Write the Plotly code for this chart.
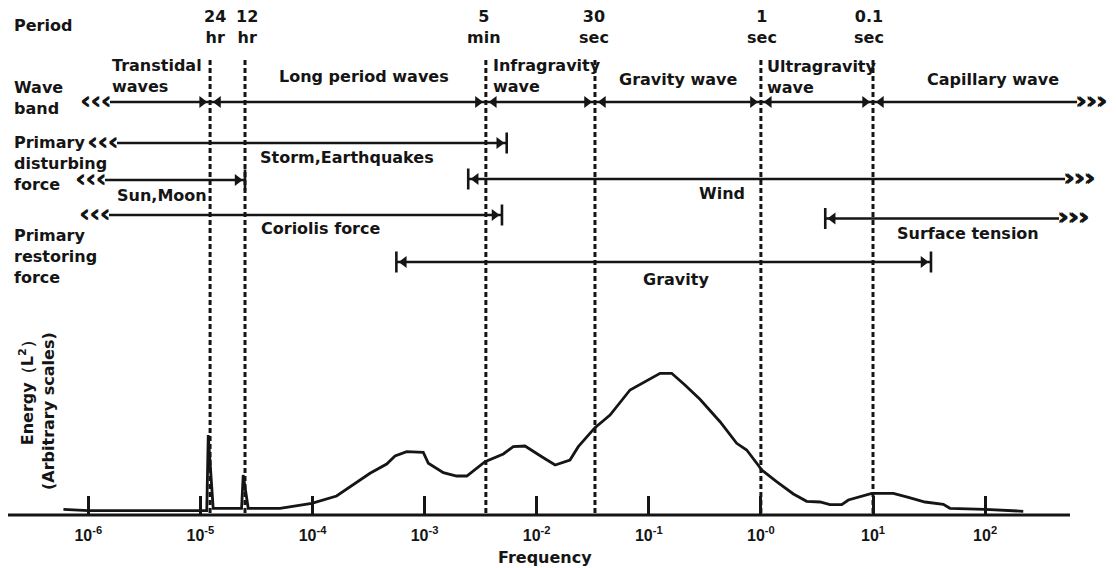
import numpy as np
import plotly.graph_objects as go

# ---------------- data ----------------
freq = [6.0e-7, 1.0e-6, 1.14e-5, 1.175e-5, 1.30e-5, 2.33e-5, 2.41e-5, 2.67e-5, 5.13e-5, 9.84e-5,
        1.64e-4, 3.26e-4, 4.59e-4, 5.45e-4, 6.92e-4, 9.73e-4, 1.08e-3, 1.47e-3, 1.93e-3, 2.38e-3,
        3.46e-3, 5.04e-3, 6.18e-3, 7.86e-3, 1.11e-2, 1.46e-2, 1.98e-2, 2.35e-2, 3.31e-2, 4.51e-2,
        6.80e-2, 9.57e-2, 0.126, 0.160, 0.210, 0.286, 0.432, 0.608, 0.747, 1.02,
        1.38, 1.95, 2.56, 3.37, 4.13, 5.26, 6.03, 9.75, 15.2, 20.7,
        29.1, 42.4, 48.6, 99.8, 219.0]
energy = [5.7, 4.3, 4.3, 80, 6.7, 6.7, 40, 6.7, 6.7, 11.7,
          19, 41.7, 51, 59, 63.3, 62.7, 51.7, 42.3, 39, 39,
          53.3, 61, 68.3, 69, 58.3, 50, 55, 68.3, 87.3, 100,
          125, 134, 141.7, 141.7, 130, 115.7, 93.3, 71.7, 65, 45,
          33.3, 21, 13.7, 13, 10.3, 10.3, 15, 21.7, 21.7, 17.7,
          13, 10.7, 6.7, 5.7, 3.7]

tick_vals = [1e-6, 1e-5, 1e-4, 1e-3, 1e-2, 1e-1, 1e0, 1e1, 1e2]
tick_text = ["10<sup>-6</sup>", "10<sup>-5</sup>", "10<sup>-4</sup>", "10<sup>-3</sup>",
             "10<sup>-2</sup>", "10<sup>-1</sup>", "10<sup>-0</sup>", "10<sup>1</sup>", "10<sup>2</sup>"]

period_freq = [1.22e-5, 2.50e-5, 3.52e-3, 3.31e-2, 1.0, 10.0]
period_text = ["24<br>hr", "12<br>hr", "5<br>min", "30<br>sec", "1<br>sec", "0.1<br>sec"]

band_names = ["Transtidal<br>waves", "Long period waves", "Infragravity<br>wave",
              "Gravity wave", "Ultragravity<br>wave", "Capillary wave"]
band_lo = [None, 1.22e-5, 3.52e-3, 3.31e-2, 1.0, 10.0]
band_hi = [1.22e-5, 3.52e-3, 3.31e-2, 1.0, 10.0, None]

force_names = ["Storm,Earthquakes", "Sun,Moon", "Wind", "Coriolis force", "Surface tension", "Gravity"]
force_lo = [None, None, 2.45e-3, None, 3.75, 5.6e-4]
force_hi = [5.4e-3, 2.50e-5, None, 4.9e-3, None, 32.9]

# ---------------- layout helpers ----------------
W, H = 1117, 568
L, R, T, B = 8, 0, 0, 53
PW, PH = W - L - R, H - T - B
PX_PER_DEC = 112.1
X_1EM6_PX = 88.3                      # pixel column of 1e-6
XR = [-6 + (L - X_1EM6_PX) / PX_PER_DEC, -6 + (W - R - X_1EM6_PX) / PX_PER_DEC]
PXD = (XR[1] - XR[0]) / PW           # decades per pixel
AXIS_END_PX = 1070
INK = "#151515"
FONT = "DejaVu Sans"


def lx(px):
    return XR[0] + (px - L) * PXD


def px_paper(px):
    return (px - L) / PW


def py_paper(py):
    return 1 - (py - T) / PH


fig = go.Figure()
annotations = []


def label(text, px, py, xanchor="left", size=16, align="left", angle=0):
    annotations.append(dict(text=text, x=px_paper(px), y=py_paper(py), xref="paper", yref="paper",
                            xanchor=xanchor, yanchor="middle", showarrow=False, align=align,
                            textangle=angle,
                            font=dict(family=FONT, size=size, color=INK, weight="bold")))


# vertical dashed period lines
for f in period_freq:
    fig.add_trace(go.Scatter(x=[f, f], y=[60, 515], yaxis="y2", mode="lines",
                             line=dict(color=INK, width=3, dash="5px,3px"),
                             hoverinfo="skip", showlegend=False))

# energy spectrum
fig.add_trace(go.Scatter(x=freq, y=energy, mode="lines", line=dict(color=INK, width=2.8),
                         showlegend=False, hoverinfo="skip"))

# arrows ---------------------------------------------------------
HS = 10.5                       # head marker size
TIP = 1.155 * HS / 2            # tip offset from marker center (px)
heads_r, heads_l, bars = [], [], []
CHEV = dict(family=FONT, size=25, color=INK, weight="bold")


def chevrons(text, x, row, xanchor):
    # drawn twice with a 1.5 px shift to give the heavy look of the original
    for dx in (0, 1.5):
        annotations.append(dict(text=text, x=x, y=row, xref="x", yref="y2", xanchor=xanchor,
                                yanchor="middle", showarrow=False, yshift=2,
                                xshift=dx if xanchor == "left" else -dx, font=CHEV))


def arrow(lo, hi, row, lo_open_px=None, hi_open_px=None, lo_cap="head", hi_cap="head", gap=2.0):
    x0 = lx(lo_open_px) if lo is None else np.log10(lo)
    x1 = lx(hi_open_px) if hi is None else np.log10(hi)
    fig.add_trace(go.Scatter(x=[10 ** x0, 10 ** x1], y=[row, row], yaxis="y2", mode="lines",
                             line=dict(color=INK, width=2.4), hoverinfo="skip", showlegend=False))
    if lo is None:
        chevrons("‹‹‹", x0 + 4 * PXD, row, "right")
    else:
        g = 1.5 if lo_cap == "bar" else gap
        heads_l.append((10 ** (x0 + (g + TIP) * PXD), row))
        if lo_cap == "bar":
            bars.append((10 ** x0, row))
    if hi is None:
        chevrons("›››", x1 - 4 * PXD, row, "left")
    else:
        g = 1.5 if hi_cap == "bar" else gap
        heads_r.append((10 ** (x1 - (g + TIP) * PXD), row))
        if hi_cap == "bar":
            bars.append((10 ** x1, row))


# wave band row
BAND_ROW = 102
for i in range(len(band_names)):
    arrow(band_lo[i], band_hi[i], BAND_ROW, lo_open_px=110, hi_open_px=1077)

# force rows: row, open-left px, open-right px
force_rows = [143, 180, 179, 215, 218.5, 262]
force_open = [(117, None), (105, None), (None, 1065), (109, None), (None, 1059), (None, None)]
for i in range(len(force_names)):
    arrow(force_lo[i], force_hi[i], force_rows[i], lo_open_px=force_open[i][0],
          hi_open_px=force_open[i][1], lo_cap="bar", hi_cap="bar")

fig.add_trace(go.Scatter(x=[p[0] for p in heads_r], y=[p[1] for p in heads_r], yaxis="y2", mode="markers",
                         marker=dict(symbol="triangle-right", size=HS, color=INK, line=dict(width=0)),
                         hoverinfo="skip", showlegend=False))
fig.add_trace(go.Scatter(x=[p[0] for p in heads_l], y=[p[1] for p in heads_l], yaxis="y2", mode="markers",
                         marker=dict(symbol="triangle-left", size=HS, color=INK, line=dict(width=0)),
                         hoverinfo="skip", showlegend=False))
fig.add_trace(go.Scatter(x=[p[0] for p in bars], y=[p[1] for p in bars], yaxis="y2", mode="markers",
                         marker=dict(symbol="line-ns", size=15, color=INK, line=dict(width=2.6, color=INK)),
                         hoverinfo="skip", showlegend=False))

# ---------------- text ----------------
label("Period", 12, 26)
label("Wave<br>band", 12, 97.5)
label("Primary<br>disturbing<br>force", 12, 163)
label("Primary<br>restoring<br>force", 12, 256)

period_px = [215, 247, 484, 594, 762, 869]
for t, px in zip(period_text, period_px):
    label(t, px, 27, xanchor="center", align="center")

band_pos = [(110, 76, "left"), (364, 76, "center"), (491, 76, "left"),
            (678, 80, "center"), (765, 76.5, "left"), (993, 80, "center")]
for t, (px, py, xa) in zip(band_names, band_pos):
    label(t, px, py, xanchor=xa)

force_pos = [(258, 157, "left"), (115, 195, "left"), (722, 194, "center"),
             (259, 228.5, "left"), (895, 234, "left"), (641, 279, "left")]
for t, (px, py, xa) in zip(force_names, force_pos):
    label(t, px, py, xanchor=xa)

label("Energy（L<sup>2</sup>）<br>(Arbitrary scales)", 37, 411, xanchor="center", align="right", angle=-90)
label("Frequency", 545, 557, xanchor="center", align="center")

# baseline of the frequency axis (ends short of the right edge, as in the reference)
shapes = [dict(type="line", xref="paper", yref="paper", x0=0, x1=px_paper(AXIS_END_PX), y0=0, y1=0,
               line=dict(color=INK, width=3))]

fig.update_layout(
    width=W, height=H,
    margin=dict(l=L, r=R, t=T, b=B, autoexpand=False),
    paper_bgcolor="white", plot_bgcolor="white",
    showlegend=False,
    annotations=annotations,
    shapes=shapes,
    xaxis=dict(type="log", range=XR, showgrid=False, zeroline=False, showline=False,
               ticks="inside", ticklen=19, tickwidth=2.6, tickcolor=INK,
               tickvals=tick_vals, ticktext=tick_text, ticklabelstandoff=9,
               tickfont=dict(family="Liberation Sans Narrow, Liberation Sans, Arial", size=16,
                             color=INK, weight="bold")),
    yaxis=dict(range=[0, PH], visible=False, fixedrange=True),
    yaxis2=dict(range=[PH, 0], visible=False, overlaying="y", fixedrange=True),
)

fig.write_html("out.html")
